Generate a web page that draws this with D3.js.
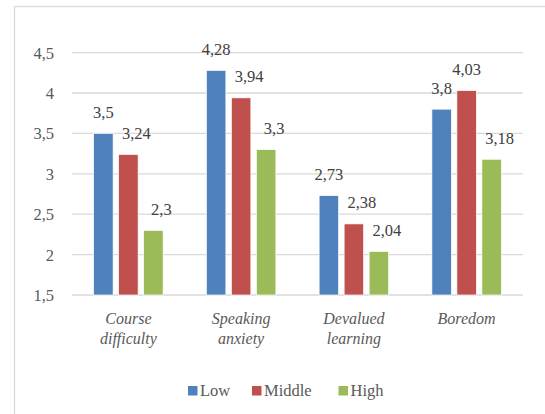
<!DOCTYPE html>
<html>
<head>
<meta charset="utf-8">
<script src="https://cdn.jsdelivr.net/npm/d3@7"></script>
<style>
  body { margin: 0; background: #fff; }
</style>
</head>
<body>
<div id="chart"></div>
<script>
const categories = [["Course", "difficulty"], ["Speaking", "anxiety"], ["Devalued", "learning"], ["Boredom"]];
const seriesNames = ["Low", "Middle", "High"];
const lowValues = [3.5, 4.28, 2.73, 3.8];
const middleValues = [3.24, 3.94, 2.38, 4.03];
const highValues = [2.3, 3.3, 2.04, 3.18];
const yTicks = [1.5, 2, 2.5, 3, 3.5, 4, 4.5];
const colors = ["#4F81BD", "#C0504D", "#9BBB59"];

const width = 545;
const height = 414;
const seriesValues = [lowValues, middleValues, highValues];
const fmt = v => String(v).replace(".", ",");

const svg = d3.select("#chart")
    .append("svg")
    .attr("width", width)
    .attr("height", height)
    .attr("font-family", "Liberation Serif, Times New Roman, serif");

// chart frame
svg.append("rect")
    .attr("x", 14.5).attr("y", 6.5)
    .attr("width", 560).attr("height", 440)
    .attr("fill", "none")
    .attr("stroke", "#D9D9D9")
    .attr("stroke-width", 1.3);

const x0 = d3.scaleBand()
    .domain(d3.range(categories.length))
    .range([72, 523])
    .padding(0);

const x1 = d3.scaleBand()
    .domain(d3.range(seriesNames.length))
    .range([-34.75, 34.75])
    .paddingInner(0.22);

const y = d3.scaleLinear()
    .domain([1.5, 4.5])
    .range([295, 52.6]);

// gridlines
svg.append("g")
    .selectAll("line")
    .data(yTicks)
    .enter()
    .append("line")
    .attr("x1", 72).attr("x2", 523)
    .attr("y1", d => y(d)).attr("y2", d => y(d))
    .attr("stroke", "#D9D9D9")
    .attr("stroke-width", 1.3);

// y tick labels
svg.append("g")
    .selectAll("text")
    .data(yTicks)
    .enter()
    .append("text")
    .attr("x", 54)
    .attr("y", d => y(d) + 6)
    .attr("text-anchor", "end")
    .attr("fill", "#595959")
    .attr("font-size", 16.5)
    .text(fmt);

const bars = [];
categories.forEach((c, i) => {
    seriesValues.forEach((vals, s) => {
        bars.push({ cat: i, s: s, value: vals[i] });
    });
});

const barX = d => x0(d.cat) + x0.bandwidth() / 2 + x1(d.s);

svg.append("g")
    .selectAll("rect")
    .data(bars)
    .enter()
    .append("rect")
    .attr("x", barX)
    .attr("y", d => y(d.value))
    .attr("width", x1.bandwidth())
    .attr("height", d => y(1.5) - y(d.value))
    .attr("fill", d => colors[d.s])
    .attr("stroke", "#fff")
    .attr("stroke-width", 0.7);

// value labels; nudge right when the label would run into the taller bar on its left
svg.append("g")
    .selectAll("text")
    .data(bars)
    .enter()
    .append("text")
    .attr("x", d => {
        const cx = barX(d) + x1.bandwidth() / 2;
        if (d.s > 0) {
            const prev = seriesValues[d.s - 1][d.cat];
            if (prev - d.value > 0.2) return cx + 8;
        }
        return cx;
    })
    .attr("y", d => y(d.value) - 15.5)
    .attr("text-anchor", "middle")
    .attr("fill", "#404040")
    .attr("font-size", 16.5)
    .text(d => fmt(d.value));

// category labels
const catG = svg.append("g")
    .selectAll("text")
    .data(categories)
    .enter()
    .append("text")
    .attr("text-anchor", "middle")
    .attr("fill", "#595959")
    .attr("font-size", 16)
    .attr("font-style", "italic");

catG.selectAll("tspan")
    .data((d, i) => d.map(line => ({ line, i })))
    .enter()
    .append("tspan")
    .attr("x", d => x0(d.i) + x0.bandwidth() / 2)
    .attr("y", (d, j) => 324 + j * 19.5)
    .text(d => d.line);

// legend
const legendX = [188, 252, 338.5];
const legend = svg.append("g")
    .selectAll("g")
    .data(seriesNames)
    .enter()
    .append("g")
    .attr("transform", (d, i) => "translate(" + legendX[i] + ",386)");

legend.append("rect")
    .attr("width", 9.5).attr("height", 9.5)
    .attr("fill", (d, i) => colors[i]);

legend.append("text")
    .attr("x", 12)
    .attr("y", 9.5)
    .attr("fill", "#595959")
    .attr("font-size", 16.5)
    .text(d => d);
</script>
</body>
</html>
